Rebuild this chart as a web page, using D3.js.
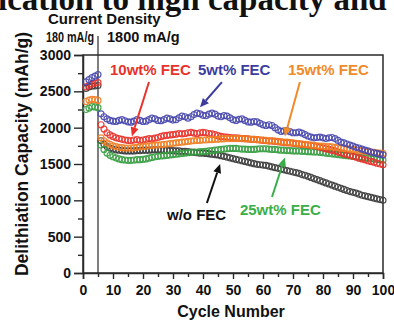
<!DOCTYPE html>
<html>
<head>
<meta charset="utf-8">
<script src="https://cdn.jsdelivr.net/npm/d3@7/dist/d3.min.js"></script>
<style>
  html, body { margin: 0; padding: 0; background: #fff; }
  svg { display: block; }
  text { font-family: "Liberation Sans", Arial, sans-serif; font-weight: bold; }
</style>
</head>
<body>
<svg id="chart" width="394" height="320"></svg>
<script>
// Delithiation capacity (mAh/g) per cycle, cycles 1..100
const cycles = d3.range(1, 101);

const capNoFEC = [
  2540, 2560, 2570, 2575, 2580, 1820, 1770, 1740, 1720, 1705,
  1695, 1690, 1685, 1680, 1680, 1680, 1680, 1685, 1685, 1690,
  1690, 1690, 1695, 1695, 1695, 1695, 1690, 1690, 1685, 1685,
  1680, 1680, 1675, 1675, 1670, 1665, 1660, 1655, 1650, 1650,
  1645, 1640, 1635, 1630, 1625, 1615, 1605, 1595, 1585, 1575,
  1565, 1555, 1545, 1535, 1525, 1515, 1505, 1495, 1490, 1485,
  1480, 1470, 1460, 1450, 1440, 1430, 1420, 1410, 1400, 1390,
  1380, 1370, 1355, 1345, 1330, 1315, 1300, 1285, 1270, 1255,
  1240, 1225, 1210, 1195, 1180, 1165, 1150, 1135, 1120, 1110,
  1100, 1085, 1070, 1060, 1050, 1040, 1030, 1020, 1010, 1000
];

const cap5FEC = [
  2630, 2660, 2690, 2710, 2730, 2190, 2150, 2120, 2100, 2090,
  2085, 2100, 2110, 2095, 2080, 2075, 2090, 2110, 2100, 2085,
  2090, 2110, 2130, 2120, 2100, 2095, 2110, 2130, 2120, 2105,
  2110, 2135, 2160, 2150, 2130, 2150, 2180, 2200, 2190, 2170,
  2165, 2185, 2200, 2185, 2160, 2150, 2165, 2160, 2135, 2110,
  2100, 2115, 2120, 2100, 2080, 2075, 2085, 2080, 2060, 2040,
  2030, 2040, 2030, 2000, 1970, 1950, 1955, 1960, 1945, 1930,
  1930, 1940, 1925, 1905, 1885, 1870, 1860, 1865, 1870, 1860,
  1850, 1860, 1865, 1850, 1825, 1800, 1790, 1775, 1760, 1745,
  1730, 1720, 1705, 1690, 1680, 1665, 1655, 1645, 1635, 1625
];

const cap10FEC = [
  2560, 2580, 2600, 2610, 2620, 2040, 1980, 1930, 1900, 1880,
  1860, 1850, 1840, 1830, 1825, 1820, 1830, 1835, 1825, 1830,
  1840, 1850, 1845, 1855, 1865, 1880, 1890, 1895, 1900, 1905,
  1910, 1920, 1915, 1920, 1930, 1935, 1925, 1920, 1930, 1935,
  1930, 1920, 1915, 1905, 1890, 1880, 1875, 1870, 1865, 1860,
  1860, 1855, 1850, 1850, 1845, 1840, 1840, 1835, 1830, 1825,
  1820, 1815, 1815, 1810, 1805, 1800, 1795, 1790, 1790, 1785,
  1780, 1775, 1770, 1765, 1760, 1755, 1750, 1740, 1730, 1720,
  1710, 1700, 1690, 1680, 1665, 1655, 1640, 1630, 1620, 1605,
  1595, 1580, 1570, 1560, 1545, 1535, 1525, 1510, 1500, 1490
];

const cap15FEC = [
  2360, 2380, 2390, 2385, 2375, 1860, 1820, 1790, 1770, 1750,
  1740, 1730, 1725, 1720, 1720, 1720, 1725, 1730, 1735, 1740,
  1745, 1750, 1755, 1760, 1760, 1765, 1770, 1775, 1780, 1785,
  1790, 1795, 1800, 1805, 1810, 1815, 1820, 1825, 1825, 1830,
  1830, 1835, 1835, 1840, 1840, 1845, 1845, 1850, 1850, 1850,
  1850, 1850, 1850, 1845, 1845, 1840, 1840, 1835, 1830, 1830,
  1825, 1820, 1820, 1815, 1810, 1805, 1800, 1800, 1795, 1790,
  1785, 1780, 1775, 1770, 1765, 1760, 1755, 1750, 1745, 1745,
  1740, 1740, 1735, 1730, 1725, 1720, 1715, 1710, 1705, 1700,
  1695, 1690, 1680, 1675, 1670, 1665, 1660, 1655, 1650, 1645
];

const cap25FEC = [
  2250, 2270, 2290, 2285, 2275, 1760, 1700, 1650, 1620, 1600,
  1585, 1570, 1560, 1555, 1550, 1550, 1555, 1560, 1560, 1565,
  1570, 1580, 1590, 1600, 1605, 1610, 1615, 1620, 1625, 1630,
  1635, 1640, 1645, 1650, 1655, 1660, 1665, 1665, 1670, 1670,
  1675, 1680, 1685, 1690, 1695, 1700, 1705, 1710, 1715, 1715,
  1715, 1710, 1705, 1705, 1700, 1700, 1700, 1705, 1710, 1710,
  1710, 1705, 1700, 1700, 1695, 1690, 1690, 1685, 1685, 1680,
  1680, 1680, 1675, 1675, 1670, 1670, 1665, 1665, 1660, 1655,
  1650, 1645, 1640, 1635, 1630, 1625, 1620, 1615, 1610, 1605,
  1600, 1595, 1590, 1585, 1580, 1575, 1570, 1565, 1560, 1555
];

const seriesNames = ["w/o FEC", "25wt% FEC", "10wt% FEC", "15wt% FEC", "5wt% FEC"];
const seriesValues = [capNoFEC, cap25FEC, cap10FEC, cap15FEC, cap5FEC];
const seriesColors = ["#3c3c3c", "#3a9e44", "#e8322b", "#f07d22", "#4747ad"];
const labelColors  = ["#111111", "#3aae48", "#e8322b", "#f08a2a", "#3d3d9e"];

const xTicks = [0, 10, 20, 30, 40, 50, 60, 70, 80, 90, 100];
const yTicks = [0, 500, 1000, 1500, 2000, 2500, 3000];
const rateSwitchCycle = 5;
const rateLabels = ["180 mA/g", "1800 mA/g"];

const svg = d3.select("#chart");

// Heading line running across the top edge
svg.append("text")
  .attr("x", -2).attr("y", 10)
  .style("font-family", "'Liberation Serif', 'Times New Roman', serif")
  .style("font-size", "33px")
  .attr("fill", "#111")
  .text("ication to high capacity and");

const L = 83, R = 383, T = 55, B = 273;
const x = d3.scaleLinear().domain([0, 100]).range([L, R]);
const y = d3.scaleLinear().domain([0, 3000]).range([B, T]);

const axisColor = "#2a2a2a";

// Frame
svg.append("rect")
  .attr("x", L).attr("y", T).attr("width", R - L).attr("height", B - T)
  .attr("fill", "none").attr("stroke", axisColor).attr("stroke-width", 1.5);

// Y axis with minor ticks
const yAxis = svg.append("g").attr("transform", `translate(${L},0)`)
  .call(d3.axisLeft(y).tickValues(yTicks).tickSize(9).tickPadding(3).tickFormat(d3.format("d")));
svg.append("g").attr("transform", `translate(${L},0)`)
  .call(d3.axisLeft(y).tickValues(d3.range(250, 3000, 500)).tickSize(5).tickFormat(""))
  .call(g => g.select(".domain").remove());

// X axis with minor ticks
const xAxis = svg.append("g").attr("transform", `translate(0,${B})`)
  .call(d3.axisBottom(x).tickValues(xTicks).tickSize(6).tickPadding(6).tickFormat(d3.format("d")));
svg.append("g").attr("transform", `translate(0,${B})`)
  .call(d3.axisBottom(x).tickValues(d3.range(5, 100, 10)).tickSize(4).tickFormat(""))
  .call(g => g.select(".domain").remove());

svg.selectAll(".tick line").attr("stroke", axisColor).attr("stroke-width", 1.4);
svg.selectAll(".domain").attr("stroke", axisColor).attr("stroke-width", 1.5);
yAxis.selectAll("text").style("font-size", "14px").attr("fill", "#111");
xAxis.selectAll("text").style("font-size", "14px").attr("fill", "#111");

// Axis titles
svg.append("text")
  .attr("transform", `translate(28,154) rotate(-90)`)
  .attr("text-anchor", "middle")
  .style("font-size", "17.5px").attr("fill", "#111")
  .text("Delithiation Capacity (mAh/g)");
svg.append("text")
  .attr("x", (L + R) / 2 - 2).attr("y", 317)
  .attr("text-anchor", "middle")
  .style("font-size", "16px").attr("fill", "#111")
  .text("Cycle Number");

// Current density header and divider
svg.append("text").attr("x", 48).attr("y", 24)
  .style("font-size", "15px").attr("fill", "#111").text("Current Density");
svg.append("text").attr("x", 46).attr("y", 42)
  .style("font-size", "14.5px").attr("fill", "#111")
  .attr("textLength", 48).attr("lengthAdjust", "spacingAndGlyphs")
  .text(rateLabels[0]);
svg.append("text").attr("x", 107).attr("y", 42)
  .style("font-size", "14.5px").attr("fill", "#111").text(rateLabels[1]);
svg.append("line")
  .attr("x1", x(rateSwitchCycle)).attr("x2", x(rateSwitchCycle))
  .attr("y1", 36).attr("y2", B)
  .attr("stroke", axisColor).attr("stroke-width", 1.2);

// Data: open circle markers per cycle
seriesValues.forEach((vals, i) => {
  svg.append("g")
    .selectAll("circle")
    .data(vals)
    .join("circle")
    .attr("cx", (d, j) => x(cycles[j]))
    .attr("cy", d => y(d))
    .attr("r", 3)
    .attr("fill", "none")
    .attr("stroke", seriesColors[i])
    .attr("stroke-width", 1.2)
    .attr("opacity", 0.9);
});

// Callouts: label text and arrow, positions in data units
const callouts = [
  { s: 2, tx: 9,    ty: 2725, from: [22, 2628],  to: [16.3, 1880] },
  { s: 4, tx: 38.3, ty: 2725, from: [46.3, 2628], to: [39, 2280] },
  { s: 3, tx: 68.3, ty: 2725, from: [72.3, 2628], to: [67.3, 1880] },
  { s: 0, tx: 28,   ty: 729,  from: [41.3, 963],  to: [45.7, 1500] },
  { s: 1, tx: 52.3, ty: 798,  from: [63, 1046],   to: [67.3, 1590] }
];

callouts.forEach(c => {
  const col = labelColors[c.s];
  const x1 = x(c.from[0]), y1 = y(c.from[1]);
  const x2 = x(c.to[0]), y2 = y(c.to[1]);
  const ang = Math.atan2(y2 - y1, x2 - x1);
  const hl = 9, hw = 4;
  const bx = x2 - hl * Math.cos(ang), by = y2 - hl * Math.sin(ang);
  svg.append("line")
    .attr("x1", x1).attr("y1", y1).attr("x2", bx).attr("y2", by)
    .attr("stroke", col).attr("stroke-width", 2);
  svg.append("polygon")
    .attr("points", [
      [x2, y2],
      [bx + hw * Math.sin(ang), by - hw * Math.cos(ang)],
      [bx - hw * Math.sin(ang), by + hw * Math.cos(ang)]
    ].map(p => p.join(",")).join(" "))
    .attr("fill", col);
  svg.append("text")
    .attr("x", x(c.tx)).attr("y", y(c.ty))
    .style("font-size", "15px").attr("fill", col)
    .text(seriesNames[c.s]);
});
</script>
</body>
</html>
